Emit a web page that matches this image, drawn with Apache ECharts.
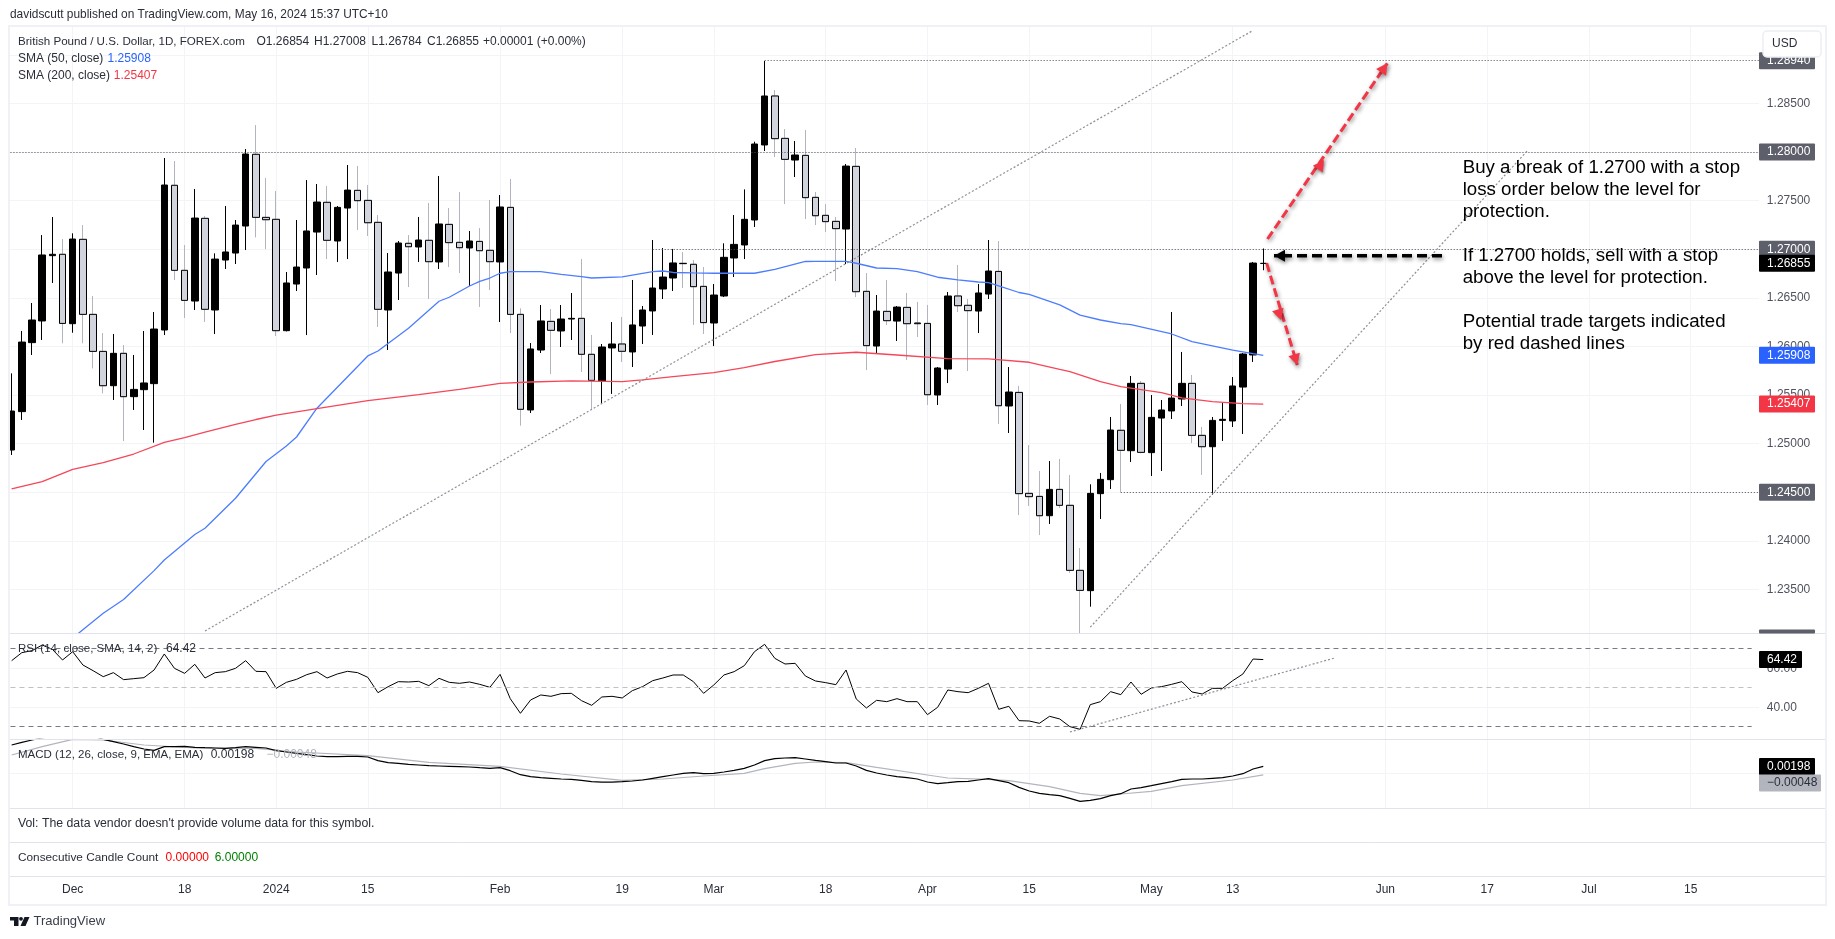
<!DOCTYPE html>
<html>
<head>
<meta charset="utf-8">
<style>html,body{margin:0;padding:0;background:#fff}#chart{width:1835px;height:939px}</style>
<script src="https://cdn.jsdelivr.net/npm/echarts@6/dist/echarts.min.js"></script>
</head>
<body>
<div id="chart"></div>
<script>
// GBP/USD daily, first bar is 23 Nov 2023
var opens=[1.24934,1.25329,1.26039,1.26262,1.26934,1.26948,1.26234,1.27102,1.26330,1.25949,1.25596,1.25929,1.25483,1.25555,1.25617,1.26169,1.27658,1.26783,1.26467,1.27318,1.26375,1.26889,1.26961,1.27239,1.27977,1.27328,1.27308,1.26162,1.26642,1.26807,1.27177,1.27483,1.27085,1.27424,1.27606,1.27503,1.27277,1.26375,1.26755,1.27061,1.27023,1.27092,1.26869,1.27256,1.27071,1.27013,1.27081,1.26989,1.26869,1.27431,
1.26330,1.25346,1.25963,1.26258,1.26159,1.26282,1.26289,1.25919,1.25644,1.25984,1.26025,1.25943,1.26210,1.26365,1.26591,1.26704,1.26855,1.26845,1.26618,1.26241,
1.26519,1.26910,1.27044,1.27301,1.28073,1.28577,1.28141,1.27918,1.27966,1.27534,1.27349,1.27287,1.27208,1.27853,
1.26567,1.26004,1.26361,1.26261,1.26402,1.26241,1.26237,1.25500,1.25767,1.26519,1.26423,1.26364,1.26539,1.26772,1.25387,1.25527,1.24488,1.24457,
1.24258,1.24529,1.24365,1.23696,1.23487,1.24485,1.24629,1.25137,1.24927,1.25620,1.24907,1.25263,1.25336,1.25459,1.25620,1.25085,1.24968,1.25239,1.25233,1.25582,1.25912,1.26854];
var closes=[1.25335,1.26045,1.26272,1.26941,1.26948,1.26237,1.27105,1.26330,1.25949,1.25596,1.25929,1.25483,1.25558,1.25624,1.26179,1.27661,1.26783,1.26474,1.27321,1.26382,1.26899,1.26972,1.27249,1.27980,1.27328,1.27304,1.26162,1.26653,1.26817,1.27188,1.27486,1.27092,1.27431,1.27609,1.27500,1.27273,1.26382,1.26766,1.27064,1.27026,1.27095,1.26872,1.27260,1.27068,1.27016,1.27085,1.26985,1.26872,1.27435,1.26330,
1.25353,1.25974,1.26262,1.26166,1.26282,1.26289,1.25919,1.25651,1.25994,1.26025,1.25950,1.26221,1.26375,1.26601,1.26714,1.26859,1.26852,1.26615,1.26245,1.26529,
1.26917,1.27050,1.27308,1.28083,1.28577,1.28138,1.27925,1.27970,1.27531,1.27345,1.27284,1.27212,1.27856,1.26563,
1.26008,1.26364,1.26265,1.26405,1.26234,1.26234,1.25503,1.25778,1.26519,1.26419,1.26368,1.26550,1.26776,1.25390,1.25531,1.24485,1.24454,1.24258,
1.24529,1.24365,1.23696,1.23490,1.24488,1.24632,1.25140,1.24931,1.25620,1.24910,1.25270,1.25346,1.25469,1.25620,1.25085,1.24968,1.25239,1.25250,1.25593,1.25922,1.26858,1.26855];
var lows=[1.24883,1.25243,1.25912,1.26066,1.26653,1.26032,1.26141,1.26032,1.25774,1.25517,1.25449,1.25027,1.25346,1.25140,1.25010,1.26117,1.26683,1.26292,1.26375,1.26251,1.26128,1.26797,1.26848,1.26992,1.27122,1.27002,1.26107,1.26155,1.26570,1.26117,1.26735,1.26899,1.26869,1.26899,1.27198,1.27136,1.26200,1.25963,1.26478,1.26611,1.26869,1.26488,1.26797,1.26817,1.26755,1.26622,1.26406,1.26580,1.26251,1.26138,
1.25185,1.25315,1.25932,1.25716,1.25994,1.26066,1.25737,1.25346,1.25414,1.25511,1.25840,1.25788,1.26025,1.26118,1.26488,1.26570,1.26601,1.26221,1.26128,1.26004,
1.26508,1.26714,1.26899,1.27229,1.28011,1.27949,1.27465,1.27743,1.27311,1.27249,1.27177,1.26673,1.26848,1.26508,
1.25757,1.25922,1.26220,1.26056,1.25860,1.26097,1.25397,1.25397,1.25623,1.26354,1.25747,1.26138,1.26488,1.25202,1.25109,1.24265,1.24358,1.24059,
1.24173,1.24337,1.23669,1.23051,1.23322,1.24224,1.24533,1.24499,1.24811,1.24900,1.24667,1.24718,1.25253,1.25387,1.25006,1.24677,1.24471,1.25027,1.25171,1.25099,1.25840,1.26784];
var highs=[1.25723,1.26159,1.26447,1.27146,1.27332,1.27105,1.27164,1.27249,1.26519,1.26138,1.26128,1.26015,1.25912,1.26159,1.26354,1.27939,1.27908,1.27044,1.27620,1.27342,1.26958,1.27445,1.27301,1.28031,1.28278,1.27733,1.27599,1.26766,1.27301,1.27712,1.27671,1.27651,1.27445,1.27867,1.27856,1.27661,1.27352,1.26961,1.27085,1.27146,1.27332,1.27476,1.27754,1.27424,1.27589,1.27188,1.27218,1.27507,1.27558,1.27723,
1.26392,1.26035,1.26426,1.26385,1.26426,1.26550,1.26900,1.26118,1.26025,1.26251,1.26303,1.26684,1.26416,1.27095,1.27013,1.27003,1.26972,1.26889,1.26817,1.26642,
1.27061,1.27352,1.27616,1.28107,1.28937,1.28638,1.28237,1.28114,1.28227,1.27589,1.27465,1.27332,1.27877,1.28042,
1.26755,1.26529,1.26683,1.26416,1.26550,1.26457,1.26426,1.25788,1.26560,1.26838,1.26488,1.26642,1.27095,1.27085,1.25788,1.25593,1.24985,1.24718,
1.24821,1.24842,1.24677,1.23926,1.24581,1.24698,1.25274,1.25408,1.25696,1.25644,1.25500,1.25449,1.26354,1.25943,1.25706,1.25171,1.25274,1.25418,1.25685,1.25932,1.26869,1.27008];

// [bar number, price], bar 0 is the 1 Dec candle
var sma50=[[0,1.2300],[3,1.23254],[5,1.23396],[8,1.23693],[9,1.23803],[12,1.24065],[13,1.24129],[16,1.24438],[19,1.24816],[21,1.24976],[22,1.25068],[24,1.25364],[29,1.25902],[30,1.25953],[33,1.26187],[36,1.26465],[37,1.26506],[39,1.26622],[40,1.26670],[41,1.26704],[42,1.26753],[43,1.26769],[46,1.26769],[48,1.26742],[50,1.26718],[51,1.26704],[54,1.26715],[57,1.26769],[58,1.26776],[59,1.26761],[61,1.26756],[63,1.26753],[67,1.26753],[69,1.26794],[72,1.26874],[73,1.26876],[76,1.26876],[77,1.26856],[79,1.26807],[81,1.26800],[83,1.26769],[85,1.26712],[87,1.26684],[89,1.26663],[90,1.26656],[91,1.26622],[93,1.26555],[94,1.26535],[97,1.26427],[99,1.26322],[101,1.26272],[103,1.26234],[104,1.26224],[108,1.26128],[110,1.26049],[114,1.25963],[116,1.25925],[117,1.25908]];
var sma200=[[-6,1.24533],[-3,1.24608],[0,1.24734],[3,1.24804],[6,1.24893],[9,1.25012],[11,1.25061],[13,1.25117],[16,1.25199],[18,1.25248],[20,1.25292],[24,1.25360],[29,1.25442],[34,1.25504],[38,1.25559],[42,1.25619],[45,1.25634],[49,1.25645],[54,1.25637],[56,1.25655],[59,1.25689],[63,1.25730],[66,1.25781],[69,1.25845],[73,1.25915],[77,1.25940],[81,1.25912],[86,1.25874],[90,1.25871],[94,1.25837],[97,1.25763],[98,1.25740],[101,1.25637],[103,1.25586],[107,1.25524],[109,1.25470],[112,1.25432],[115,1.25411],[117,1.25407]];

var rsi=[63.87,67.97,69.0,71.9,69.68,64.21,68.48,61.65,58.74,55.66,57.72,54.13,54.64,55.15,59.08,67.3,59.94,57.37,61.99,54.98,57.72,58.23,59.94,63.87,58.4,58.23,49.68,52.76,54.3,56.69,58.23,54.98,57.03,58.4,57.72,55.32,47.46,50.54,53.1,52.93,53.27,51.05,54.81,52.76,52.25,52.93,51.73,50.2,56.86,44.38,36.87,43.7,46.27,45.58,46.95,47.12,43.36,40.97,45.24,45.58,44.73,48.49,50.54,53.61,54.98,56.52,56.52,53.1,47.12,
51.39,56.52,58.23,61.3,68.48,72.24,65.06,62.16,62.5,56.01,53.44,52.59,51.56,59.08,44.21,39.6,43.53,42.85,44.38,42.85,42.85,36.18,39.94,48.83,47.97,47.46,49.68,52.25,38.92,40.46,33.1,32.93,31.74,35.33,33.96,30.03,28.66,41.31,42.85,47.97,46.44,52.93,46.61,49.85,50.54,51.73,53.1,47.8,46.78,49.68,49.68,53.61,57.03,64.72,64.42];

var macd=[0.00813,0.0089,0.00957,0.01014,0.01072,0.0111,0.01129,0.0111,0.01072,0.00976,0.00909,0.00842,0.00765,0.00698,0.0066,0.00765,0.00765,0.00775,0.00746,0.00736,0.00727,0.00717,0.00736,0.00765,0.00746,0.00727,0.0065,0.00612,0.00573,0.00535,0.00497,0.00478,0.00478,0.00487,0.00487,0.00468,0.00363,0.00305,0.00286,0.00257,0.00238,0.00219,0.00209,0.002,0.0019,0.00181,0.00161,0.00142,0.00161,0.00075,-0.0004,-0.00097,-0.00126,-0.00145,-0.00164,-0.00174,-0.00203,-0.00241,-0.00251,-0.00251,-0.00241,-0.00222,-0.00193,-0.00145,-0.00097,-0.00049,-0.00001,0.00018,-0.00011,-0.00001,0.00037,0.00085,0.00142,0.00238,0.00363,0.0042,0.00439,0.00449,0.00411,0.00372,0.00334,0.00296,0.00296,0.00209,0.00085,0.00008,-0.00049,-0.00097,-0.00126,-0.00164,-0.00251,-0.00298,-0.0027,-0.00241,-0.00231,-0.00193,-0.00155,-0.00212,-0.0027,-0.00404,-0.00509,-0.00576,-0.00615,-0.00643,-0.0072,-0.00806,-0.00777,-0.0073,-0.00643,-0.00586,-0.00452,-0.00413,-0.00356,-0.00298,-0.00241,-0.00174,-0.00164,-0.00164,-0.00145,-0.00126,-0.00078,-0.00011,0.00123,0.00198];
var macdSignal=[[-6,0.00525],[-3,0.00765],[0,0.00976],[3,0.00957],[7,0.00813],[12,0.00727],[18,0.00717],[22,0.00612],[29,0.00506],[35,0.00315],[42,0.002],[48,-0.00021],[54,-0.00203],[58,-0.00164],[62,-0.00078],[66,-0.00001],[68,0.00133],[71,0.00286],[73,0.00324],[76,0.00305],[79,0.00171],[84,-0.00049],[86,-0.00135],[90,-0.00174],[92,-0.00212],[96,-0.00385],[99,-0.00576],[101,-0.00643],[103,-0.00595],[106,-0.00519],[109,-0.00356],[114,-0.00193],[117,-0.00048]];

var priceTicks=[1.235,1.24,1.245,1.25,1.255,1.26,1.265,1.27,1.275,1.28,1.285,1.29];
var rsiTicks=[40,60];
var macdTicks=[0];
var timeLabels={'2023-12-01':'Dec','2023-12-18':'18','2024-01-02':'2024','2024-01-15':'15','2024-02-01':'Feb','2024-02-19':'19','2024-03-01':'Mar','2024-03-18':'18','2024-04-01':'Apr','2024-04-15':'15','2024-05-01':'May','2024-05-13':'13','2024-06-03':'Jun','2024-06-17':'17','2024-07-01':'Jul','2024-07-15':'15'};
var priceTags=[1.2894,1.28,1.27,1.26855,1.25908,1.25407,1.245,1.23];
var priceTagColors=['#5d606b','#5d606b','#5d606b','#000000','#2962ff','#f23645','#5d606b','#5d606b'];
// [first bar, price]: dotted levels run to the right edge
var levels=[[68,1.2894],[-7,1.28],[57,1.27],[103,1.245]];

var FONT='"Liberation Sans",Arial,sans-serif';
var GRID='#f3f4f7',DIV='#e0e3eb',INK='#2a2e39';

// weekdays from 22 Nov 2023, no bars on 25 Dec and 1 Jan
var categories=[];
(function(){
  var d=new Date(Date.UTC(2023,10,22));
  while(categories.length<174){
    var s=d.toISOString().slice(0,10),w=d.getUTCDay();
    if(w!=0&&w!=6&&s!='2023-12-25'&&s!='2024-01-01')categories.push(s);
    d=new Date(d.getTime()+86400000);
  }
})();
function k(bar){return bar+7;}   // bar number -> category index
var isTick=function(i,v){return timeLabels[v]!==undefined;};

var candles=[],bodies=[];
candles.push('-');bodies.push('-');
for(var i=0;i<opens.length;i++){
  candles.push([opens[i],closes[i],lows[i],highs[i]]);
  // down candles: black outline on the body but a grey wick, so the body is drawn again
  if(closes[i]<opens[i])bodies.push([opens[i],closes[i],closes[i],opens[i]]);
  else bodies.push('-');
}

function pairs(list){return list.map(function(p){return [k(p[0]),p[1]];});}
function hLine(first,last,v,style){return [{coord:[k(first),v],lineStyle:style},{coord:[k(last),v]}];}

function xAxis(gridIndex,withLabels){
  return {type:'category',gridIndex:gridIndex,data:categories,boundaryGap:false,
    axisLine:{show:false},axisTick:{show:false},
    axisLabel:withLabels?{show:true,interval:isTick,margin:75,color:INK,fontFamily:FONT,fontSize:12,formatter:function(v){return timeLabels[v]||'';}}:{show:false},
    splitLine:{show:true,interval:isTick,lineStyle:{color:GRID,width:1}}};
}
// two axes per pane: the first only draws gridlines under the marks, the second the labels above the cover
function yAxes(gridIndex,min,max,ticks,digits){
  return [
    {type:'value',gridIndex:gridIndex,min:min,max:max,position:'right',
      axisLine:{show:false},axisTick:{show:false,customValues:ticks},
      axisLabel:{show:false,customValues:ticks},
      splitLine:{show:true,lineStyle:{color:GRID,width:1}}},
    {type:'value',gridIndex:gridIndex,min:min,max:max,position:'right',z:10,
      axisLine:{show:false},axisTick:{show:false,customValues:ticks},
      axisLabel:{show:true,customValues:ticks,margin:5,color:'#50535e',fontFamily:FONT,fontSize:12,formatter:function(v){return v.toFixed(digits);}},
      splitLine:{show:false}}
  ];
}
function tagSeries(name,xi,yi,values,colors,textColors,widths,digits,shifts){
  return {type:'custom',name:name,xAxisIndex:xi,yAxisIndex:yi,z:20,clip:false,silent:true,
    data:values.map(function(v,n){return [0,v,n];}),
    encode:{x:0,y:1},
    renderItem:function(params,api){
      var n=api.value(2),v=api.value(1),cs=params.coordSys;
      var y=api.coord([0,v])[1]+(shifts?shifts[n]:0);
      var x=1759,top=y-8.5,bot=Math.min(y+8.5,cs.y+cs.height);
      var kids=[{type:'rect',shape:{x:x,y:top,width:widths[n],height:bot-top,r:1},style:{fill:colors[n]}}];
      if(bot-top>16)kids.push({type:'text',x:x+8,y:y,style:{text:v.toFixed(digits).replace('-','\u2212'),fill:textColors[n],font:'12px '+FONT,verticalAlign:'middle'}});
      return {type:'group',children:kids};
    }};
}

var series=[
  {type:'candlestick',name:'GBPUSD',xAxisIndex:0,yAxisIndex:0,barWidth:7,data:candles,z:2,silent:true,
    itemStyle:{color:'#000000',color0:'#d1d4dc',borderColor:'#000000',borderColor0:'#b2b5be',borderColorDoji:'#000000',borderWidth:1},
    markLine:{silent:true,symbol:'none',label:{show:false},animation:false,
      data:levels.map(function(l){return hLine(l[0],166,l[1],{color:'#4a4d57',type:[1,2],width:1});}).concat([
        // trend lines
        [{coord:[k(13),1.23072],lineStyle:{color:'#8f9096',type:[2,2],width:1.2}},{coord:[k(116),1.29252]}],
        [{coord:[k(100),1.23111],lineStyle:{color:'#8f9096',type:[2,2],width:1.2}},{coord:[k(143),1.28019]}]
      ])}},
  {type:'candlestick',name:'Down bodies',xAxisIndex:0,yAxisIndex:0,barWidth:7,data:bodies,z:3,silent:true,
    itemStyle:{color:'#d1d4dc',color0:'#d1d4dc',borderColor:'#000000',borderColor0:'#000000',borderColorDoji:'#000000',borderWidth:1}},
  {type:'line',name:'SMA 50',xAxisIndex:0,yAxisIndex:0,data:pairs(sma50),showSymbol:false,z:4,silent:true,lineStyle:{color:'#4d7dff',width:1.3}},
  {type:'line',name:'SMA 200',xAxisIndex:0,yAxisIndex:0,data:pairs(sma200),showSymbol:false,z:4,silent:true,lineStyle:{color:'#f5475a',width:1.3}},
  {type:'line',name:'RSI',xAxisIndex:1,yAxisIndex:2,data:[null].concat(rsi),showSymbol:false,z:4,silent:true,lineStyle:{color:'#000000',width:1},
    markLine:{silent:true,symbol:'none',label:{show:false},animation:false,data:[
      hLine(-7,165,70,{color:'#787b86',type:[5,4],width:1}),
      hLine(-7,165,50,{color:'#c0c1c5',type:[5,4],width:1}),
      hLine(-7,165,30,{color:'#787b86',type:[5,4],width:1}),
      [{coord:[k(98),27.3],lineStyle:{color:'#8f9096',type:[2,2],width:1.2}},{coord:[k(124),65.2]}]
    ]}},
  {type:'line',name:'MACD',xAxisIndex:2,yAxisIndex:4,data:[null].concat(macd),showSymbol:false,z:5,silent:true,lineStyle:{color:'#000000',width:1.2}},
  {type:'line',name:'Signal',xAxisIndex:2,yAxisIndex:4,data:pairs(macdSignal),showSymbol:false,z:4,silent:true,lineStyle:{color:'#b2b5be',width:1.2}},
  tagSeries('Price tags',0,0,priceTags,priceTagColors,priceTags.map(function(){return '#fff';}),priceTags.map(function(){return 56;}),5),
  tagSeries('RSI tag',1,2,[64.42],['#000000'],['#fff'],[43],2),
  tagSeries('MACD tags',2,4,[0.00198,-0.00048],['#000000','#b2b5be'],['#fff','#2a2e39'],[56,62],5,[0,8])
];

// everything that the author drew by hand or TradingView prints around the chart
var shapes=[];
function txt(x,y,s,fill,font){shapes.push({type:'text',x:x,y:y,z:30,silent:true,style:{text:s,fill:fill||INK,font:font||('12px '+FONT),verticalAlign:'middle'}});}
function rect(x,y,w,h,fill,z){shapes.push({type:'rect',z:z,silent:true,shape:{x:x,y:y,width:w,height:h},style:{fill:fill}});}
function hRule(y){shapes.push({type:'line',z:17,silent:true,shape:{x1:10,y1:y,x2:1825,y2:y},style:{stroke:DIV,lineWidth:1}});}
function head(x,y,a,color,shadow){
  var s=11,w=6,c=Math.cos(a),n=Math.sin(a);
  shapes.push({type:'polygon',z:31,silent:true,shape:{points:[[x,y],[x-s*c-w*n,y-s*n+w*c],[x-s*c+w*n,y-s*n-w*c]]},
    style:{fill:color,shadowBlur:shadow,shadowColor:'rgba(0,0,0,0.45)',shadowOffsetX:1,shadowOffsetY:2}});
}
function arrow(pts,color,width,dash){
  shapes.push({type:'polyline',z:31,silent:true,shape:{points:pts},
    style:{stroke:color,lineWidth:width,lineDash:dash,fill:null,shadowBlur:4,shadowColor:'rgba(0,0,0,0.45)',shadowOffsetX:1,shadowOffsetY:2}});
  var a=pts[pts.length-1],b=pts[0];
  head(a[0],a[1],Math.atan2(a[1]-b[1],a[0]-b[0]),color,4);
}

rect(0,20,9.5,890,'#ffffff',15);
rect(1759,27,66,850,'#ffffff',8);
rect(10,808.5,1749,68,'#ffffff',8);
shapes.push({type:'rect',z:16,silent:true,shape:{x:9,y:26,width:1817,height:879},style:{fill:null,stroke:'#eff1f6',lineWidth:2}});
hRule(633.5);hRule(739.5);hRule(808.5);hRule(842.5);hRule(876.5);

txt(10,15,'davidscutt published on TradingView.com, May 16, 2024 15:37 UTC+10',INK,'11.9px '+FONT);
txt(18,41.7,'British Pound / U.S. Dollar, 1D, FOREX.com',INK,'11.6px '+FONT);
txt(256.5,41.7,'O1.26854');txt(314,41.7,'H1.27008');txt(371.5,41.7,'L1.26784');txt(427,41.7,'C1.26855');txt(483,41.7,'+0.00001 (+0.00%)');
txt(18,58.7,'SMA (50, close)');txt(107.5,58.7,'1.25908','#2962ff');
txt(18,76,'SMA (200, close)');txt(113.8,76,'1.25407','#f23645');
txt(18,649,'RSI (14, close, SMA, 14, 2)',INK,'11.5px '+FONT);txt(166,649,'64.42');
txt(18,755,'MACD (12, 26, close, 9, EMA, EMA)',INK,'11.5px '+FONT);txt(210.7,755,'0.00198');txt(266.5,755,'\u22120.00048','#b2b5be');
txt(18,824,"Vol: The data vendor doesn't provide volume data for this symbol.",INK,'12.3px '+FONT);
txt(18,857.7,'Consecutive Candle Count',INK,'11.8px '+FONT);txt(165.6,857.7,'0.00000','#ff0000');txt(214.7,857.7,'6.00000','#008000');

// USD box sits over the top tag
shapes.push({type:'rect',z:32,silent:true,shape:{x:1763,y:31,width:58,height:26,r:4},style:{fill:'#fff',stroke:'#eceef3',lineWidth:1.5}});
shapes.push({type:'text',x:1772,y:44,z:33,silent:true,style:{text:'USD',fill:INK,font:'12px '+FONT,verticalAlign:'middle'}});

// hand drawn annotations
arrow([[1267.5,239],[1387.3,63.3]],'#f23645',3,[9,4]);
head(1324,160,Math.atan2(-175.7,119.8),'#f23645',3);
arrow([[1266.7,263.3],[1297.3,365]],'#f23645',3,[9,4]);
head(1281,320,Math.atan2(101.7,30.6),'#f23645',3);
arrow([[1442,255.7],[1274,255.7]],'#000000',3.5,[10,5]);

var NOTE='18.7px '+FONT;
[[167.7,'Buy a break of 1.2700 with a stop'],[189.7,'loss order below the level for'],[211.7,'protection.'],[255.7,'If 1.2700 holds, sell with a stop'],[277.7,'above the level for protection.'],[321.7,'Potential trade targets indicated'],[343.7,'by red dashed lines']].forEach(function(l){txt(1462.7,l[0],l[1],'#000000',NOTE);});

// TradingView mark
shapes.push({type:'polygon',z:30,silent:true,shape:{points:[[10,917],[18.5,917],[18.5,926],[14,926],[14,920.5],[10,920.5]]},style:{fill:'#131722'}});
shapes.push({type:'circle',z:30,silent:true,shape:{cx:21,cy:918.8,r:1.9},style:{fill:'#131722'}});
shapes.push({type:'polygon',z:30,silent:true,shape:{points:[[24.5,917],[29.5,917],[25.5,926],[20.5,926]]},style:{fill:'#131722'}});
txt(33.5,921.7,'TradingView','#3a3e4a','13px '+FONT);

var chart=echarts.init(document.getElementById('chart'),null,{renderer:'canvas'});
chart.setOption({
  animation:false,backgroundColor:'#ffffff',
  grid:[
    {left:1.47,top:27,width:1760.4,height:606.4},
    {left:1.47,top:633.4,width:1760.4,height:105.9},
    {left:1.47,top:739.3,width:1760.4,height:69.1}
  ],
  xAxis:[xAxis(0,false),xAxis(1,false),xAxis(2,true)],
  yAxis:yAxes(0,1.23047,1.29287,priceTicks,5).concat(yAxes(1,23.54,77.85,rsiTicks,2),yAxes(2,-0.01009,0.00977,macdTicks,5)),
  series:series,
  graphic:{elements:shapes}
});
</script>
</body>
</html>
